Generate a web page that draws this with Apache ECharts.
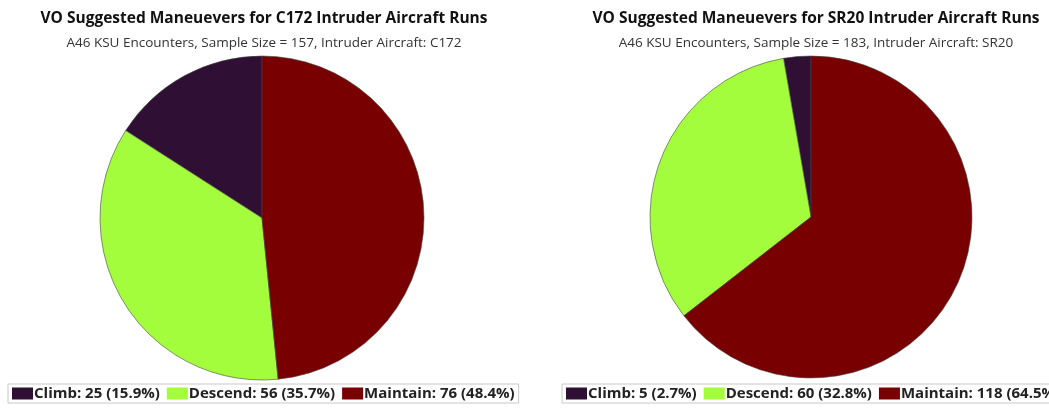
<!DOCTYPE html>
<html>
<head>
<meta charset="utf-8">
<script src="https://cdn.jsdelivr.net/npm/echarts@6/dist/echarts.min.js"></script>
<style>html,body{margin:0;padding:0;background:#fff}#c{width:1049px;height:412px}</style>
</head>
<body>
<div id="c"></div>
<script>
const categories = ['Climb', 'Descend', 'Maintain'];
const c172Values = [25, 56, 76];
const c172Pct = ['15.9%', '35.7%', '48.4%'];
const sr20Values = [5, 60, 118];
const sr20Pct = ['2.7%', '32.8%', '64.5%'];
const colors = ['#2f1034', '#a3fc3c', '#780000'];

const FONT = 'Open Sans';
function mk(vals, pct, prefix) {
  return categories.map((c, i) => ({
    name: prefix + c + ': ' + vals[i] + ' (' + pct[i] + ')',
    value: vals[i],
    itemStyle: { color: colors[i] }
  }));
}
const leftData = mk(c172Values, c172Pct, '');
const rightData = mk(sr20Values, sr20Pct, '\u200b');

const chart = echarts.init(document.getElementById('c'));
const titleBase = {
  textStyle: { fontFamily: FONT, fontSize: 15.5, fontWeight: 'bold', color: '#111' },
  subtextStyle: { fontFamily: FONT, fontSize: 13.5, color: '#333' },
  itemGap: 9,
  textAlign: 'center'
};
const legendBase = {
  orient: 'horizontal',
  icon: 'rect',
  itemWidth: 21,
  itemHeight: 12,
  itemGap: 7,
  borderColor: '#c8c8c8',
  borderWidth: 1,
  padding: [2, 4, 2, 4],
  itemStyle: { borderWidth: 0 },
  textStyle: { fontFamily: FONT, fontSize: 15, fontWeight: 'bold', color: '#222', padding: [0, 0, 0, -4] },
  selectedMode: false
};
chart.setOption({
  animation: false,
  title: [
    Object.assign({}, titleBase, { text: 'VO Suggested Maneuevers for C172 Intruder Aircraft Runs', subtext: 'A46 KSU Encounters, Sample Size = 157, Intruder Aircraft: C172', left: 259, top: 6 }),
    Object.assign({}, titleBase, { text: 'VO Suggested Maneuevers for SR20 Intruder Aircraft Runs', subtext: 'A46 KSU Encounters, Sample Size = 183, Intruder Aircraft: SR20', left: 811, top: 6 })
  ],
  legend: [
    Object.assign({}, legendBase, { data: leftData.map(d => d.name), left: 8, top: 384 }),
    Object.assign({}, legendBase, { data: rightData.map(d => d.name), left: 562, top: 384, width: 700 })
  ],
  series: [
    {
      type: 'pie', center: [262, 218], radius: 162, clockwise: false, startAngle: 90,
      label: { show: false }, labelLine: { show: false },
      itemStyle: { borderColor: '#444', borderWidth: 0.6 },
      emphasis: { disabled: true },
      data: leftData
    },
    {
      type: 'pie', center: [811, 217], radius: 161, clockwise: false, startAngle: 90,
      label: { show: false }, labelLine: { show: false },
      itemStyle: { borderColor: '#444', borderWidth: 0.6 },
      emphasis: { disabled: true },
      data: rightData
    }
  ]
});
</script>
</body>
</html>
